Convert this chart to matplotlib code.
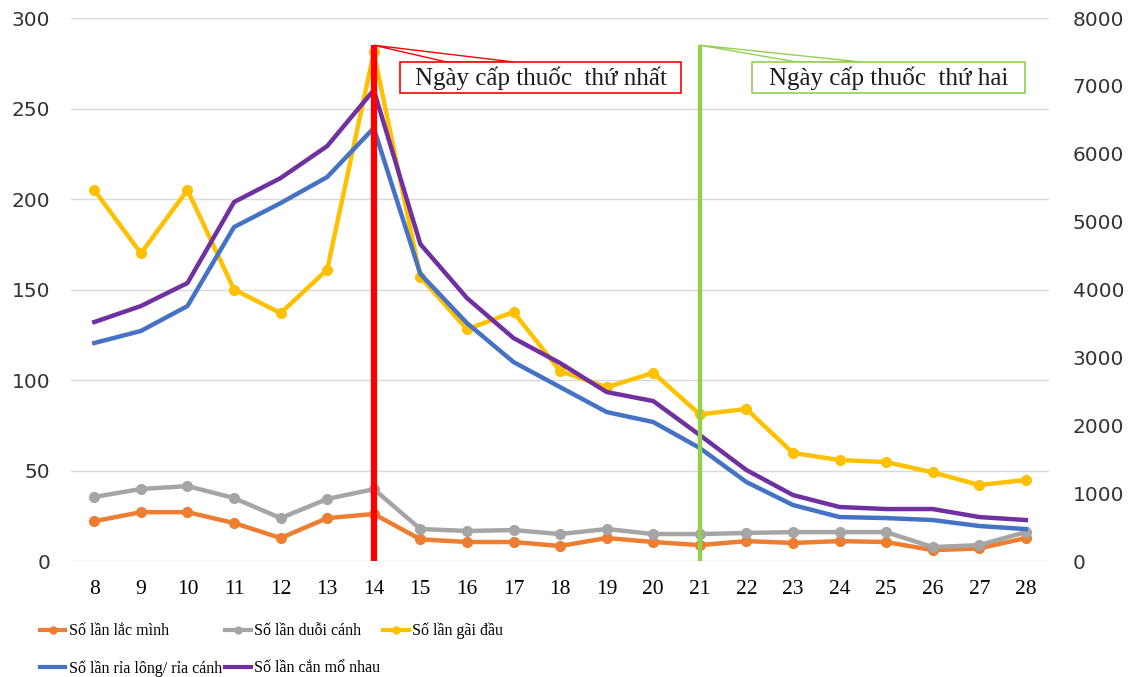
import matplotlib.pyplot as plt
from matplotlib.patches import Polygon, Rectangle
from matplotlib.lines import Line2D

days = list(range(8, 29))
# left axis
lac_minh = [22, 27, 27, 21, 12.7, 23.7, 26, 12, 10.5, 10.5, 8.3, 12.7, 10.5, 8.8, 11, 10, 11, 10.5, 6, 7, 12.7]
duoi_canh = [35.4, 39.8, 41.4, 34.8, 23.7, 34.3, 39.7, 17.7, 16.6, 17.1, 14.9, 17.7, 14.9, 14.9, 15.5, 16, 16, 16, 7.7, 8.8, 16]
gai_dau = [205, 170, 205, 150, 137, 161, 281, 157, 128, 137.6, 105, 96, 104, 81, 84, 59.7, 55.8, 54.7, 49, 42, 44.8]
# right axis
ria_long = [3212, 3390, 3757, 4921, 5274, 5658, 6380, 4230, 3506, 2932, 2563, 2195, 2048, 1665, 1164, 825, 648, 633, 604, 516, 471]
can_mo = [3521, 3757, 4096, 5289, 5643, 6114, 6939, 4670, 3875, 3285, 2917, 2490, 2357, 1856, 1341, 972, 796, 766, 766, 648, 604]

labels = ['Số lần lắc mình', 'Số lần duỗi cánh', 'Số lần gãi đầu',
          'Số lần rỉa lông/ rỉa cánh', 'Số lần cắn mổ nhau']
colors = ['#ED7D31', '#A5A5A5', '#FFC000', '#4472C4', '#7030A0']

events = [14, 21]
event_labels = ['Ngày cấp thuốc  thứ nhất', 'Ngày cấp thuốc  thứ hai']
event_colors = ['#FF0000', '#92D050']

serif = 'Liberation Serif'

fig = plt.figure(figsize=(11.4, 6.77), dpi=100)
ax = fig.add_axes([0.0623, 0.1713, 0.858, 0.802])
ax2 = ax.twinx()

for y, c in zip([lac_minh, duoi_canh, gai_dau], colors[:3]):
    ax.plot(days, y, color=c, lw=3.2, marker='o', ms=7, zorder=3)
for y, c in zip([ria_long, can_mo], colors[3:]):
    ax2.plot(days, y, color=c, lw=3.2, zorder=3)

ax.set_xlim(7.5, 28.5)
ax.set_ylim(0, 300)
ax2.set_ylim(0, 8000)
ax.set_xticks(days)
ax.set_yticks(range(0, 301, 50))
ax2.set_yticks(range(0, 8001, 1000))
ax.grid(axis='y', color='#d9d9d9', lw=1)
ax.set_axisbelow(True)
for a in (ax, ax2):
    for s in a.spines.values():
        s.set_visible(False)
ax.tick_params(axis='y', length=0, pad=15, labelsize=14.5, labelcolor='#333333')
ax2.tick_params(axis='y', length=0, pad=17, labelsize=14.5, labelcolor='#333333')
ax.tick_params(axis='x', length=0, pad=14)
for t in ax.get_xticklabels():
    t.set_fontfamily(serif)
    t.set_fontsize(15.5)

# event lines with callouts
for d, txt, c in zip(events, event_labels, event_colors):
    lw = 4.5 if c == '#FF0000' else 3.2
    ax2.plot([d, d], [0, 285], color=c, lw=lw, solid_capstyle='butt',
             transform=ax.transData, zorder=5)
    bx0, bx1 = (d + 0.56, d + 6.6) if d == 14 else (d + 1.13, d + 6.98)
    wx0, wx1 = (d + 1.57, d + 3.02) if d == 14 else (d + 2.09, d + 3.48)
    ax2.add_patch(Polygon([[d, 285], [wx0, 275.7], [wx1, 275.7]], closed=True,
                          fc='white', ec=c, lw=1, transform=ax.transData, zorder=6))
    ax2.add_patch(Rectangle((bx0, 258.6), bx1 - bx0, 17.1, fc='white', ec=c, lw=1.2,
                            transform=ax.transData, zorder=7))
    ax2.text((bx0 + bx1) / 2, 266.8, txt, ha='center', va='center', fontsize=18,
             family=serif, color='#1a1a1a', transform=ax.transData, zorder=8)

handles = []
for i, c in enumerate(colors):
    handles.append(Line2D([], [], color=c, lw=3, marker='o' if i < 3 else None, ms=5))
order = [0, 3, 1, 4, 2]
fig.legend([handles[i] for i in order], [labels[i] for i in order],
           loc='upper left', bbox_to_anchor=(0.035, 0.080), ncol=3, frameon=False,
           prop={'family': serif, 'size': 11.5}, handlelength=1.6, handletextpad=0.2,
           columnspacing=0.2, labelspacing=1.3, borderpad=0, borderaxespad=0)

fig.savefig('out.png', dpi=100)
